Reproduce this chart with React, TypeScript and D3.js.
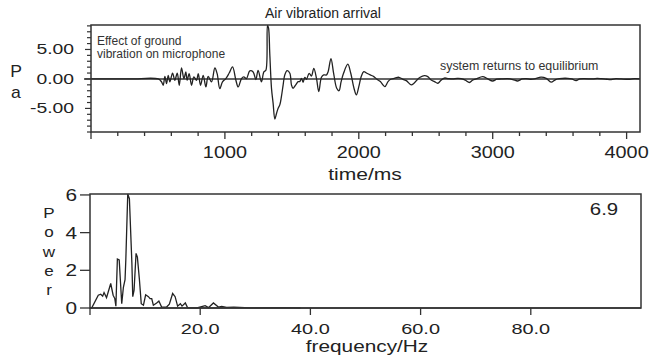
import React from "react";
import * as d3 from "d3";

const timeMs = [0, 100, 300, 502, 527, 539, 552, 564, 577, 589, 609, 626, 644, 659, 676, 694, 708, 718, 733, 751, 768, 788, 801, 818, 838, 858, 875, 900, 925, 942, 962, 982, 1007, 1032, 1057, 1082, 1099, 1124, 1141, 1161, 1186, 1211, 1231, 1248, 1273, 1291, 1306, 1318, 1326, 1335, 1348, 1360, 1373, 1385, 1397, 1410, 1422, 1435, 1447, 1465, 1485, 1497, 1509, 1529, 1547, 1559, 1572, 1584, 1597, 1609, 1629, 1646, 1664, 1684, 1701, 1721, 1738, 1758, 1771, 1792, 1812, 1835, 1852, 1868, 1886, 1918, 1940, 1964, 1982, 2000, 2018, 2037, 2060, 2085, 2112, 2136, 2161, 2194, 2218, 2238, 2265, 2300, 2330, 2355, 2391, 2412, 2435, 2458, 2490, 2515, 2540, 2565, 2590, 2612, 2639, 2670, 2701, 2735, 2764, 2795, 2826, 2850, 2876, 2925, 2960, 3000, 3030, 3062, 3112, 3150, 3187, 3220, 3249, 3280, 3311, 3361, 3400, 3436, 3470, 3498, 3561, 3590, 3623, 3650, 3686, 3748, 3780, 3810, 3850, 3885, 3920, 3960, 4022, 4060, 4097];
const pressurePa = [0, 0, 0, 0, -0.5, -1.07, 0.45, -0.8, 0.62, -0.5, 1.0, -0.23, 1.0, -1.07, 1.86, 0.06, 1.19, -0.23, 0.9, -1.07, 0.34, -0.23, 0.9, -1.07, 0.62, -1.36, 0.45, -0.5, 1.86, 0.9, -1.64, -0.5, 0.06, 1.0, 2.03, -0.23, -1.36, 0.06, 0.34, 0.06, 1.36, 1.19, -0.11, 1.47, -0.5, 1.19, 1.47, 9.1, 8.6, 4.35, -1.6, -4.1, -6.8, -5.9, -5.0, -4.4, -3.0, -1.0, 0.68, 1.41, 0.96, -1.0, -1.58, -1.0, -0.45, -0.45, 0.11, -0.56, 0.28, -0.06, 0.96, 0.5, 1.8, 0.11, -2.15, 0.28, 0.68, 0.68, 1.24, 3.45, 0.96, -1.58, -2.0, -0.45, 0.96, 2.5, 0.96, -1.58, -2.7, -1.3, 0.4, 1.24, 0.96, 0.68, 0.4, -0.06, -0.45, -1.3, -0.45, -0.06, 0.11, 0.28, -0.06, -0.28, -1.0, -0.73, -0.17, 0.28, 0.55, 0.4, -0.17, -0.45, -0.73, -0.28, 0.15, 0.05, 0.0, 0.08, 0.05, -0.2, -0.6, -0.2, 0.0, 0.4, 0.05, -0.35, -0.05, 0.0, 0.05, -0.1, -0.35, 0.0, 0.05, -0.05, 0.0, 0.3, 0.1, -0.55, -0.1, 0.05, 0.1, 0.0, -0.3, 0.0, 0.05, 0.0, 0.1, 0.05, -0.05, -0.1, 0.05, 0.0, -0.05, 0.05, 0.0];

const freqHz = [0, 0.3, 1.5, 1.94, 2.3, 2.55, 3.0, 3.76, 4.2, 4.5, 4.7, 4.97, 5.3, 5.76, 6.06, 6.36, 6.5, 6.85, 7.15, 7.6, 7.76, 8.0, 8.36, 8.6, 8.97, 9.3, 9.7, 10.1, 10.6, 10.9, 11.2, 11.5, 12.1, 12.5, 13.0, 13.9, 14.4, 15.0, 15.45, 15.9, 16.4, 16.7, 17.3, 17.7, 18.2, 19.4, 20.9, 21.5, 22.4, 23.3, 23.9, 24.8, 26.1, 29.1, 35.2, 38.2];
const power = [0, 0, 0.68, 0.73, 0.63, 0.82, 0.55, 1.3, 0.68, 0.5, 0.1, 2.6, 2.55, 0.23, 1.1, 1.5, 2.55, 6.05, 5.8, 2.4, 0.6, 0.95, 2.9, 2.7, 1.5, 0.23, 0.15, 0.7, 0.6, 0.5, 0.5, 0.15, 0.27, 0.37, 0.05, 0.05, 0.2, 0.77, 0.6, 0.1, 0.23, 0.1, 0.27, 0.02, 0.01, 0, 0.12, 0.02, 0.27, 0.05, 0.08, 0.03, 0.04, 0.01, 0.02, 0];

const timeMajorTicks = [1000, 2000, 3000, 4000];
const timeTickLabels = ["1000", "2000", "3000", "4000"];
const paMajorTicks = [5, 0, -5];
const paTickLabels = ["5.00", "0.00", "-5.00"];
const freqTicks = [0, 20, 40, 60, 80];
const freqTickLabels = ["", "20.0", "40.0", "60.0", "80.0"];
const powerTicks = [0, 2, 4, 6];
const powerTickLabels = ["0", "2", "4", "6"];
const powerLetters = ["P", "o", "w", "e", "r"];

const FONT = "'Liberation Sans', Arial, Helvetica, sans-serif";
const INK = "#222";

function T({ x, y, sx = 1, size, anchor = "start", fill = INK, children }: any) {
  return (
    <text
      transform={`translate(${x},${y}) scale(${sx},1)`}
      fontSize={size}
      textAnchor={anchor}
      fill={fill}
      fontFamily={FONT}
    >
      {children}
    </text>
  );
}

export default function App() {
  // top panel
  const x1 = d3.scaleLinear().domain([0, 4100]).range([91, 640]);
  const y1 = d3.scaleLinear().domain([-9, 9.15]).range([132, 25]);
  const sig = timeMs.map((t, i) => [t, pressurePa[i]] as [number, number]);
  const line1 = d3
    .line<[number, number]>()
    .x((d) => x1(d[0]))
    .y((d) => y1(d[1]))
    .curve(d3.curveCatmullRom.alpha(0.5));
  const minorT = d3.range(0, 4101, 200);
  const minorP = d3.range(-9, 10, 1);

  // bottom panel
  const x2 = d3.scaleLinear().domain([0, 100]).range([90, 641]);
  const y2 = d3.scaleLinear().domain([0, 6.05]).range([308, 194]);
  const spec = freqHz.map((f, i) => [f, power[i]] as [number, number]);
  const line2 = d3
    .line<[number, number]>()
    .x((d) => x2(d[0]))
    .y((d) => y2(d[1]));

  return (
    <svg
      width={652}
      height={359}
      style={{ position: "absolute", left: 0, top: 0, background: "#fff" }}
    >
      <defs>
        <clipPath id="clipTop">
          <rect x={x1(0)} y={y1(9.15)} width={x1(4100) - x1(0)} height={y1(-9) - y1(9.15)} />
        </clipPath>
      </defs>
      {/* ---------- top panel ---------- */}
      <T x={323} y={18} size={14} anchor="middle">Air vibration arrival</T>
      <line x1={84} x2={x1(4100)} y1={y1(0)} y2={y1(0)} stroke="#333" strokeWidth={1.6} />
      <path d={line1(sig) || ""} fill="none" stroke={INK} strokeWidth={1.3} clipPath="url(#clipTop)" />
      <rect
        x={x1(0)}
        y={y1(9.15)}
        width={x1(4100) - x1(0)}
        height={y1(-9) - y1(9.15)}
        fill="none"
        stroke="#333"
        strokeWidth={1.5}
      />
      {minorT.map((t) => (
        <line
          key={"mt" + t}
          x1={x1(t)}
          x2={x1(t)}
          y1={y1(-9)}
          y2={y1(-9) + (t % 1000 === 0 ? 7 : 4)}
          stroke="#333"
          strokeWidth={1.3}
        />
      ))}
      {minorP.map((p) => (
        <line
          key={"mp" + p}
          x1={x1(0) - (p % 5 === 0 ? 6 : 4)}
          x2={x1(0)}
          y1={y1(p)}
          y2={y1(p)}
          stroke="#333"
          strokeWidth={1.2}
        />
      ))}
      {paMajorTicks.map((p, i) => (
        <T key={"pl" + p} x={74} y={y1(p) + 5} size={14} sx={1.38} anchor="end">
          {paTickLabels[i]}
        </T>
      ))}
      {timeMajorTicks.map((t, i) => (
        <T key={"tl" + t} x={x1(t)} y={158} size={16} sx={1.24} anchor="middle">
          {timeTickLabels[i]}
        </T>
      ))}
      <T x={365} y={180} size={17} sx={1.24} anchor="middle">time/ms</T>
      <T x={16} y={77} size={16} sx={1.1} anchor="middle">P</T>
      <T x={16} y={98} size={16} sx={1.1} anchor="middle">a</T>
      <T x={97} y={45} size={12} fill="#333">Effect of ground</T>
      <T x={97} y={58} size={12} fill="#333">vibration on microphone</T>
      <T x={440} y={69.5} size={12.4} fill="#333">system returns to equilibrium</T>

      {/* ---------- bottom panel ---------- */}
      <path d={line2(spec) || ""} fill="none" stroke={INK} strokeWidth={1.3} />
      <line x1={x2(0)} x2={x2(100)} y1={y2(0)} y2={y2(0)} stroke="#333" strokeWidth={1.3} />
      <rect
        x={x2(0)}
        y={y2(6.05)}
        width={x2(100) - x2(0)}
        height={y2(0) - y2(6.05)}
        fill="none"
        stroke="#333"
        strokeWidth={1.5}
      />
      {freqTicks.map((f, i) => (
        <g key={"ft" + f}>
          <line x1={x2(f)} x2={x2(f)} y1={y2(0)} y2={y2(0) + 7} stroke="#333" strokeWidth={1.3} />
          <T x={x2(f)} y={333.5} size={15} sx={1.33} anchor="middle">
            {freqTickLabels[i]}
          </T>
        </g>
      ))}
      {powerTicks.map((p, i) => (
        <g key={"pt" + p}>
          <line x1={x2(0) - 10} x2={x2(0)} y1={y2(p)} y2={y2(p)} stroke="#333" strokeWidth={1.3} />
          <T x={77} y={y2(p) + 6} size={16} sx={1.3} anchor="end">
            {powerTickLabels[i]}
          </T>
        </g>
      ))}
      {powerLetters.map((c, i) => (
        <T key={"pw" + i} x={49} y={218 + i * 19.3} size={15.5} sx={1.1} anchor="middle">
          {c}
        </T>
      ))}
      <T x={604} y={215} size={17} sx={1.2} anchor="middle">6.9</T>
      <T x={367} y={352} size={16} sx={1.3} anchor="middle">frequency/Hz</T>
    </svg>
  );
}
